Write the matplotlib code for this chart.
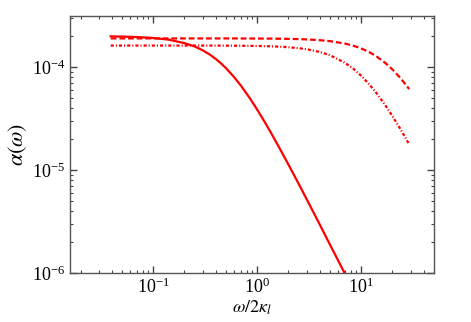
import matplotlib
matplotlib.use("Agg")
import matplotlib.pyplot as plt

# values
w = [0.039, 0.05, 0.07, 0.1, 0.14, 0.2, 0.25, 0.3, 0.35, 0.4, 0.45, 0.5,
     0.6, 0.7, 0.85, 1.0, 1.2, 1.4, 1.7, 2.0, 2.5, 3.0, 4.0, 5.0, 7.0,
     8.5, 10.0, 12.0, 14.0, 17.0, 20.0, 24.0, 29.0]

alpha_solid = [1.99e-4, 1.98e-4, 1.96e-4, 1.92e-4, 1.85e-4, 1.71e-4, 1.59e-4,
               1.455e-4, 1.325e-4, 1.20e-4, 1.085e-4, 9.8e-5,
               8.0e-5, 6.58e-5, 4.99e-5, 3.87e-5, 2.86e-5, 2.18e-5, 1.53e-5,
               1.13e-5, 7.4e-6, 5.2e-6, 2.96e-6, 1.90e-6, 9.8e-7,
               6.6e-7, 4.8e-7, 3.3e-7, 2.45e-7, 1.66e-7, 1.2e-7, 8.3e-8, 5.7e-8]

alpha_dashed = [1.90e-4, 1.90e-4, 1.90e-4, 1.90e-4, 1.90e-4, 1.90e-4, 1.90e-4,
                1.90e-4, 1.90e-4, 1.90e-4, 1.90e-4, 1.90e-4,
                1.899e-4, 1.898e-4, 1.897e-4, 1.895e-4, 1.893e-4, 1.891e-4, 1.886e-4,
                1.881e-4, 1.871e-4, 1.858e-4, 1.827e-4, 1.788e-4, 1.693e-4,
                1.609e-4, 1.52e-4, 1.397e-4, 1.275e-4, 1.103e-4, 9.5e-5, 7.79e-5, 6.12e-5]

alpha_dashdot = [1.62e-4, 1.62e-4, 1.62e-4, 1.62e-4, 1.62e-4, 1.62e-4, 1.62e-4,
                 1.62e-4, 1.619e-4, 1.618e-4, 1.617e-4, 1.616e-4,
                 1.614e-4, 1.612e-4, 1.609e-4, 1.605e-4, 1.598e-4, 1.59e-4, 1.576e-4,
                 1.56e-4, 1.528e-4, 1.491e-4, 1.404e-4, 1.306e-4, 1.101e-4,
                 9.56e-5, 8.26e-5, 6.79e-5, 5.62e-5, 4.29e-5, 3.34e-5, 2.48e-5, 1.78e-5]

plt.rcParams['font.family'] = ['Liberation Serif', 'DejaVu Serif']
plt.rcParams['mathtext.fontset'] = 'stix'

fig = plt.figure(figsize=(4.71, 3.22), dpi=100)
ax = fig.add_axes([0.149, 0.152, 0.772, 0.798])

ax.plot(w, alpha_solid, color='red', lw=1.6, ls='-')
ax.plot(w, alpha_dashed, color='red', lw=1.6, ls=(0, (2.6, 1.3)))
ax.plot(w, alpha_dashdot, color='red', lw=1.6, ls=(0, (1.4, 0.9, 0.5, 0.9)))

ax.set_xscale('log')
ax.set_yscale('log')
ax.set_xlim(0.0159, 50)
ax.set_ylim(1e-6, 3.13e-4)

ax.set_xlabel(r'$\omega/2\kappa_l$', fontsize=13, labelpad=1)
ax.set_ylabel(r'$\alpha(\omega)$', fontsize=16, labelpad=2)

ax.tick_params(which='both', direction='in', top=True, right=True,
               labelsize=13, color='#444444')
ax.tick_params(which='major', length=5, width=1)
ax.tick_params(which='minor', length=2.5, width=0.8)
for s in ax.spines.values():
    s.set_color('#555555')
    s.set_linewidth(1)

fig.savefig("out.png", dpi=100)
